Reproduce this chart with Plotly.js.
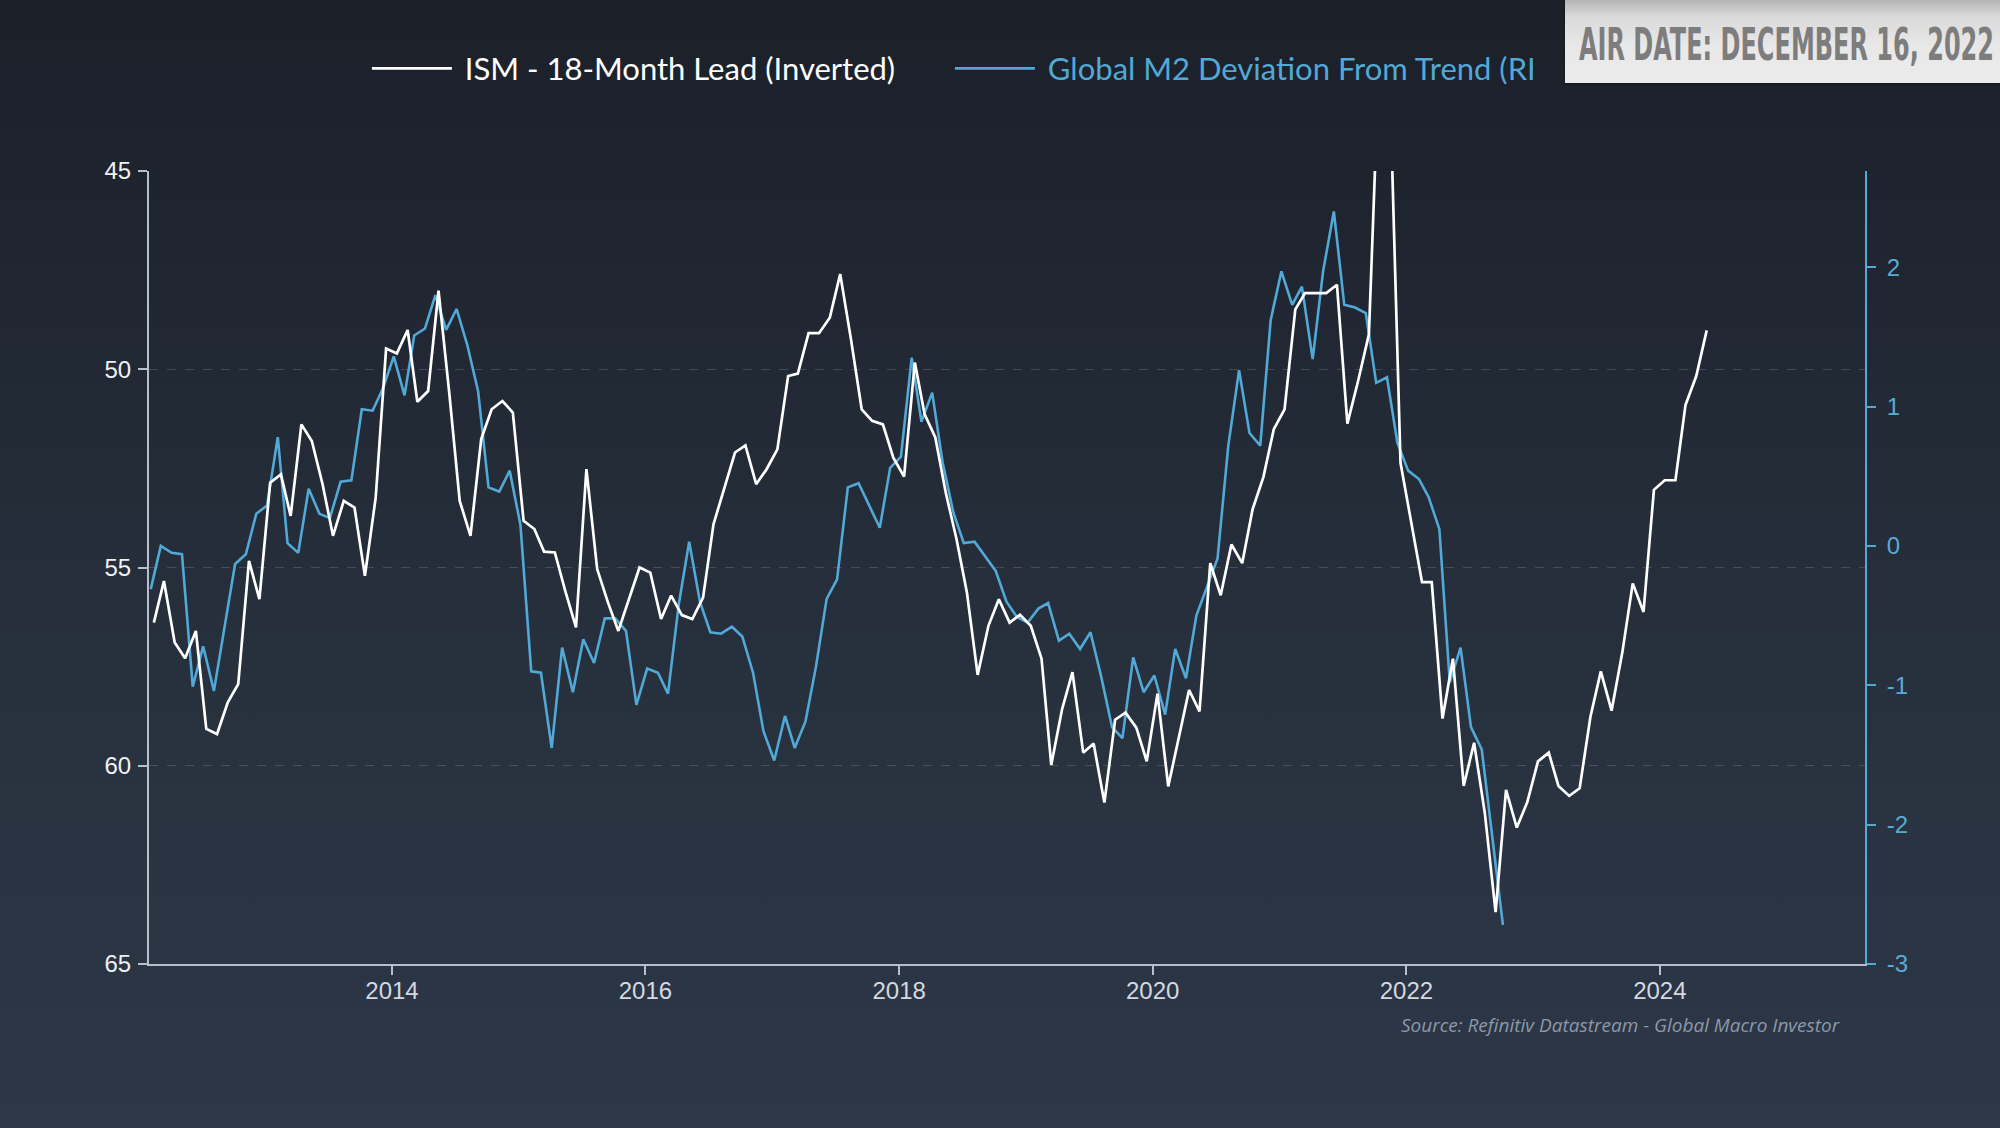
<!DOCTYPE html>
<html>
<head>
<meta charset="utf-8">
<script src="https://cdn.plot.ly/plotly-3.0.1.min.js"></script>
<style>
  html, body {
    margin: 0; padding: 0; width: 2000px; height: 1128px; overflow: hidden;
    background: linear-gradient(to bottom, #1b2029 0%, #212833 30%, #28323f 65%, #2c3748 100%);
  }
  #chart { position: absolute; left: 0; top: 0; width: 2000px; height: 1128px; }
  #airdate {
    position: absolute; left: 1565px; top: 0; width: 435px; height: 83px; overflow: hidden;
    background: linear-gradient(to bottom, #b4b4b4 0%, #dadada 20%, #e8e8e8 55%, #ececec 100%);
    box-shadow: 0 1px 2px rgba(0,0,0,0.4);
  }
  #airdate span {
    position: absolute; left: 14px; top: 22px; line-height: 1;
    font-family: "Liberation Sans Narrow", "DejaVu Sans Condensed", "Liberation Sans", sans-serif;
    font-weight: bold; font-size: 45px; color: #7d7d7d; white-space: nowrap;
    transform-origin: left center;
  }
</style>
</head>
<body>
<div id="chart"></div>
<div id="airdate"><span>AIR DATE: DECEMBER 16, 2022</span></div>
<script>
// monthly series, first observation Feb 2012
const start_year = 2012;
const start_month = 2;

// ISM - 18-month lead, plotted on an inverted left axis
const ism_values = [
  56.39, 55.34, 56.89, 57.29, 56.60, 59.07, 59.20, 58.40, 57.94, 54.83,
  55.80, 52.86, 52.65, 53.70, 51.39, 51.81, 52.90, 54.20, 53.32, 53.49,
  55.21, 53.24, 49.48, 49.60, 49.01, 50.82, 50.55, 48.02, 50.60, 53.32,
  54.20, 51.76, 51.01, 50.80, 51.09, 53.82, 54.03, 54.60, 54.62, 55.59,
  56.51, 52.52, 55.04, 55.88, 56.60, 55.80, 55.00, 55.13, 56.30, 55.71,
  56.20, 56.30, 55.76, 53.91, 52.98, 52.10, 51.92, 52.90, 52.52, 52.02,
  50.17, 50.11, 49.09, 49.09, 48.70, 47.60, 49.24, 51.01, 51.30, 51.39,
  52.23, 52.71, 49.83, 51.13, 51.72, 53.11, 54.28, 55.63, 57.71, 56.47,
  55.80, 56.39, 56.19, 56.47, 57.30, 59.98, 58.58, 57.64, 59.67, 59.44,
  60.93, 58.84, 58.66, 59.04, 59.89, 58.18, 60.52, 59.31, 58.09, 58.63,
  54.89, 55.70, 54.42, 54.89, 53.53, 52.72, 51.51, 51.01, 48.49, 48.08,
  48.08, 48.08, 47.87, 51.37, 50.29, 49.12, 42.00, 43.00, 52.36, 53.85,
  55.37, 55.37, 58.81, 57.30, 60.51, 59.42, 61.20, 63.69, 60.61, 61.56,
  60.92, 59.89, 59.67, 60.51, 60.76, 60.57, 58.77, 57.62, 58.61, 57.14,
  55.40, 56.12, 53.04, 52.80, 52.80, 50.90, 50.17, 49.02
];

// Global M2 deviation from trend, right axis
const m2_values = [
  -0.31, 0.00, -0.05, -0.06, -1.01, -0.72, -1.04, -0.57, -0.13, -0.06,
  0.23, 0.29, 0.78, 0.02, -0.05, 0.41, 0.23, 0.20, 0.46, 0.47,
  0.98, 0.97, 1.13, 1.36, 1.08, 1.51, 1.56, 1.80, 1.55, 1.70,
  1.44, 1.11, 0.42, 0.39, 0.54, 0.15, -0.90, -0.91, -1.45, -0.73,
  -1.05, -0.67, -0.84, -0.52, -0.52, -0.61, -1.14, -0.88, -0.91, -1.06,
  -0.42, 0.03, -0.40, -0.62, -0.63, -0.58, -0.65, -0.91, -1.33, -1.54,
  -1.22, -1.45, -1.26, -0.87, -0.38, -0.24, 0.42, 0.45, 0.29, 0.13,
  0.56, 0.64, 1.35, 0.89, 1.10, 0.60, 0.24, 0.02, 0.03, -0.08,
  -0.18, -0.40, -0.51, -0.55, -0.45, -0.41, -0.68, -0.63, -0.74, -0.62,
  -0.94, -1.30, -1.38, -0.80, -1.05, -0.93, -1.21, -0.74, -0.95, -0.50,
  -0.29, -0.09, 0.72, 1.26, 0.81, 0.72, 1.62, 1.97, 1.73, 1.86,
  1.34, 1.97, 2.40, 1.73, 1.71, 1.67, 1.17, 1.21, 0.74, 0.54,
  0.48, 0.35, 0.12, -0.98, -0.73, -1.30, -1.46, -2.08, -2.72
];

const x_tick_vals = ['2014-01-01', '2016-01-01', '2018-01-01', '2020-01-01', '2022-01-01', '2024-01-01'];
const x_tick_text = ['2014', '2016', '2018', '2020', '2022', '2024'];
const left_tick_vals = [45, 50, 55, 60, 65];
const right_tick_vals = [-3, -2, -1, 0, 1, 2];
const right_tick_text = ['-3', '-2', '-1', '0', '1', '2'];

const white = '#ffffff';
const blue = '#52a8d6';
const axis_grey = '#b6c0cc';

function month_dates(count, day) {
  let out = [];
  for (let i = 0; i < count; i++) {
    let m = start_month - 1 + i;
    let y = start_year + Math.floor(m / 12);
    let mm = (m % 12) + 1;
    out.push(y + '-' + (mm < 10 ? '0' : '') + mm + '-' + day);
  }
  return out;
}

const tick_font = {family: 'Liberation Sans, Arial, sans-serif', size: 24};

const chart_data = [
  {
    name: '\u00a0ISM - 18-Month Lead (Inverted)',
    x: month_dates(ism_values.length, '15'),
    y: ism_values,
    yaxis: 'y2',
    mode: 'lines',
    line: {color: white, width: 2.7},
    hoverinfo: 'skip'
  },
  {
    name: '<span style="color:' + blue + '">\u00a0Global M2 Deviation From Trend (RHS)</span>',
    x: month_dates(m2_values.length, '06'),
    y: m2_values,
    yaxis: 'y',
    mode: 'lines',
    line: {color: blue, width: 2.6},
    hoverinfo: 'skip'
  }
];

const chart_layout = {
  width: 2000,
  height: 1128,
  paper_bgcolor: 'rgba(0,0,0,0)',
  plot_bgcolor: 'rgba(0,0,0,0)',
  margin: {l: 149, r: 135, t: 171, b: 164, pad: 0},
  showlegend: true,
  legend: {
    orientation: 'h',
    x: 0.127, xanchor: 'left',
    y: 1.129, yanchor: 'middle',
    font: {family: 'Lato, sans-serif', size: 31, color: white},
    itemwidth: 80,
    entrywidth: 488, entrywidthmode: 'pixels',
    bgcolor: 'rgba(0,0,0,0)'
  },
  xaxis: {
    type: 'date',
    range: ['2012-02-01', '2025-08-14'],
    tickvals: x_tick_vals,
    ticktext: x_tick_text,
    showgrid: false, zeroline: false,
    showline: true, linecolor: axis_grey, linewidth: 2,
    ticks: 'outside', ticklen: 9, tickwidth: 2, tickcolor: axis_grey,
    ticklabelstandoff: -5,
    tickfont: Object.assign({color: '#d3d9e0'}, tick_font)
  },
  yaxis: {
    side: 'right',
    range: [-3, 2.69],
    tickvals: right_tick_vals,
    ticktext: right_tick_text,
    showgrid: false, zeroline: false,
    showline: true, linecolor: blue, linewidth: 2,
    ticks: 'outside', ticklen: 9, tickwidth: 2, tickcolor: blue,
    ticklabelstandoff: 6,
    tickfont: Object.assign({color: '#5aaad6'}, tick_font)
  },
  yaxis2: {
    overlaying: 'y',
    side: 'left',
    range: [65, 45],
    tickvals: left_tick_vals,
    showgrid: true, gridcolor: 'rgba(210,220,235,0.18)', gridwidth: 1, griddash: 'dash',
    zeroline: false,
    showline: true, linecolor: axis_grey, linewidth: 2,
    ticks: 'outside', ticklen: 9, tickwidth: 2, tickcolor: axis_grey,
    ticklabelstandoff: 2,
    tickfont: Object.assign({color: '#eef1f4'}, tick_font)
  },
  annotations: [
    {
      text: 'Source: Refinitiv Datastream - Global Macro Investor',
      xref: 'paper', yref: 'paper',
      x: 0.9872, xanchor: 'right',
      y: -0.077, yanchor: 'middle',
      showarrow: false,
      font: {family: 'Liberation Sans Narrow, Open Sans, sans-serif', size: 19, color: '#8b99aa', style: 'italic'}
    }
  ]
};

Plotly.newPlot('chart', chart_data, chart_layout, {staticPlot: true, displayModeBar: false}).then(() => {
  // squeeze the banner text to the width of the original overlay
  const span = document.querySelector('#airdate span');
  const w = span.getBoundingClientRect().width;
  span.style.transform = 'scaleX(' + (415 / w) + ')';
});
</script>
</body>
</html>
